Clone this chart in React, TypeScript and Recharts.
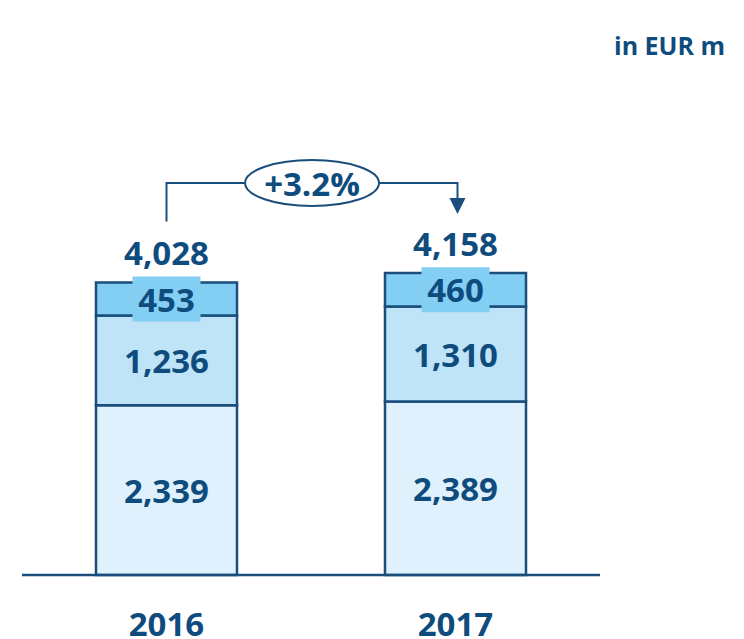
import { BarChart, Bar, XAxis, YAxis, LabelList } from 'recharts';

const categories = ['2016', '2017'];
const baseValues = [2339, 2389];
const midValues = [1236, 1310];
const topValues = [453, 460];
const totals = [4028, 4158];
const changeLabel = '+3.2%';
const unitLabel = 'in EUR m';

const NAVY = '#0f4c7e';
const LINE = '#1a4e7c';
const TOP = '#83cff4';
const MID = '#bfe4f8';
const BASE = '#dff1fc';
const FONT = '"Open Sans", "DejaVu Sans", sans-serif';

const W = 744;
const H = 639;
const margin = { top: 212, right: 144, bottom: 0, left: 22 };
const STEP = (W - margin.left - margin.right) / categories.length;
const BRACKET_Y = 183;

const data = categories.map((c, i) => ({
  year: c,
  base: baseValues[i],
  mid: midValues[i],
  top: topValues[i],
}));

const fmt = (v: number) => v.toLocaleString('en-US');

function CenterLabel(props: any) {
  const { x, y, width, height, value } = props;
  return (
    <text
      x={x + width / 2}
      y={y + height / 2}
      textAnchor="middle"
      dominantBaseline="central"
      fill={NAVY}
      fontFamily={FONT}
      fontWeight={700}
      fontSize={33}
    >
      {fmt(value)}
    </text>
  );
}

function TopLabel(props: any) {
  const { x, y, width, height, value } = props;
  const cx = x + width / 2;
  const cy = y + height / 2;
  return (
    <g>
      <rect x={cx - 34} y={cy - 22.5} width={68} height={45} fill={TOP} />
      <text
        x={cx}
        y={cy}
        textAnchor="middle"
        dominantBaseline="central"
        fill={NAVY}
        fontFamily={FONT}
        fontWeight={700}
        fontSize={33}
      >
        {fmt(value)}
      </text>
    </g>
  );
}

function TotalLabel(props: any) {
  const { x, y, width, index } = props;
  const cx = x + width / 2;
  const mid = cx + STEP / 2;
  return (
    <g>
      <text
        x={cx}
        y={y - 30}
        textAnchor="middle"
        dominantBaseline="central"
        fill={NAVY}
        fontFamily={FONT}
        fontWeight={700}
        fontSize={33}
      >
        {fmt(totals[index])}
      </text>
      {index === 0 && (
        <g>
          <polyline
            points={`${cx},${y - 61} ${cx},${BRACKET_Y} ${mid - 66},${BRACKET_Y}`}
            fill="none"
            stroke={LINE}
            strokeWidth={2}
          />
          <ellipse cx={mid + 1} cy={BRACKET_Y} rx={67} ry={23} fill="#fff" stroke={LINE} strokeWidth={2} />
          <text
            x={mid + 1}
            y={BRACKET_Y}
            textAnchor="middle"
            dominantBaseline="central"
            fill={NAVY}
            fontFamily={FONT}
            fontWeight={700}
            fontSize={33}
          >
            {changeLabel}
          </text>
        </g>
      )}
      {index === 1 && (
        <g>
          <polyline
            points={`${cx - STEP / 2 + 68},${BRACKET_Y} ${cx + 2},${BRACKET_Y} ${cx + 2},${y - 74}`}
            fill="none"
            stroke={LINE}
            strokeWidth={2}
          />
          <polygon
            points={`${cx - 6},${y - 75} ${cx + 10},${y - 75} ${cx + 2},${y - 59}`}
            fill={LINE}
          />
        </g>
      )}
    </g>
  );
}

function YearTick(props: any) {
  const { x, y, payload } = props;
  return (
    <text
      x={x}
      y={y + 40}
      textAnchor="middle"
      dominantBaseline="central"
      fill={NAVY}
      fontFamily={FONT}
      fontWeight={700}
      fontSize={33}
    >
      {payload.value}
    </text>
  );
}

export default function App() {
  return (
    <div style={{ position: 'absolute', left: 0, top: 0, width: W, height: H, background: '#fff' }}>
      <div
        style={{
          position: 'absolute',
          top: 28,
          right: W - 725,
          fontFamily: FONT,
          fontWeight: 700,
          fontSize: 25,
          color: NAVY,
          whiteSpace: 'nowrap',
        }}
      >
        {unitLabel}
      </div>
      <BarChart width={W} height={H} data={data} margin={margin}>
        <XAxis
          dataKey="year"
          height={64}
          axisLine={{ stroke: LINE, strokeWidth: 2.5 }}
          tickLine={false}
          tick={<YearTick />}
          interval={0}
        />
        <YAxis hide domain={[0, 5000]} />
        <Bar dataKey="base" stackId="a" fill={BASE} stroke={LINE} strokeWidth={2.5} barSize={141} isAnimationActive={false}>
          <LabelList dataKey="base" content={<CenterLabel />} />
        </Bar>
        <Bar dataKey="mid" stackId="a" fill={MID} stroke={LINE} strokeWidth={2.5} barSize={141} isAnimationActive={false}>
          <LabelList dataKey="mid" content={<CenterLabel />} />
        </Bar>
        <Bar dataKey="top" stackId="a" fill={TOP} stroke={LINE} strokeWidth={2.5} barSize={141} isAnimationActive={false}>
          <LabelList dataKey="top" content={<TopLabel />} />
          <LabelList dataKey="top" content={<TotalLabel />} />
        </Bar>
      </BarChart>
    </div>
  );
}
